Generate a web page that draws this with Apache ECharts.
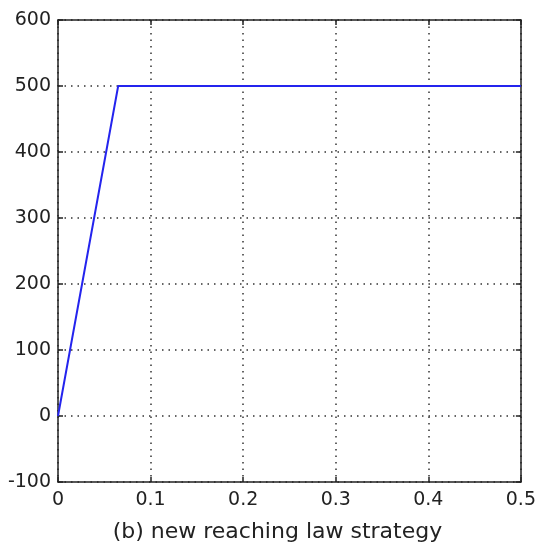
<!DOCTYPE html>
<html lang="en">
<head>
    <meta charset="UTF-8">
    <title>new reaching law strategy</title>
    <script type="text/javascript" src="https://cdn.jsdelivr.net/npm/echarts@6.0.0/dist/echarts.min.js"></script>
    <style>
        body { margin: 0; background: #fff; }
    </style>
</head>
<body>
<div id="main" style="width:539px;height:552px;"></div>
<script type="text/javascript">
    const chart = echarts.init(document.getElementById('main'));

    // data
    const timeVals = [0, 0.065, 0.5];
    const outputVals = [0, 500, 500];
    const xTitle = '(b) new reaching law strategy';

    const font = 'DejaVu Sans, sans-serif';
    const points = timeVals.map((t, i) => [t, outputVals[i]]);

    const gridLine = {show: true, lineStyle: {color: '#333', type: [1.5, 5], width: 1.5}};
    const boxLine = {show: true, onZero: false, lineStyle: {color: '#222', width: 1.5}};
    const tick = {show: true, inside: true, length: 5, lineStyle: {color: '#222', width: 1.5}};

    const option = {
        backgroundColor: '#fff',
        animation: false,
        grid: {left: 58, right: 18, top: 20, bottom: 70},
        xAxis: [{
            type: 'value',
            min: 0, max: 0.5, interval: 0.1,
            axisLine: boxLine,
            axisTick: tick,
            splitLine: gridLine,
            axisLabel: {color: '#222', fontSize: 19, fontFamily: font, margin: 9},
            name: xTitle,
            nameLocation: 'middle',
            nameGap: 39,
            // title sits a bit left of the plot centre in the original
            nameTextStyle: {color: '#222', fontSize: 22, fontFamily: font, padding: [0, 24, 0, 0]}
        }, {
            type: 'value', position: 'top',
            min: 0, max: 0.5, interval: 0.1,
            axisLine: boxLine, axisTick: tick,
            axisLabel: {show: false}, splitLine: {show: false}
        }],
        yAxis: [{
            type: 'value',
            min: -100, max: 600, interval: 100,
            axisLine: boxLine,
            axisTick: tick,
            splitLine: gridLine,
            axisLabel: {color: '#222', fontSize: 19, fontFamily: font, margin: 7}
        }, {
            type: 'value', position: 'right',
            min: -100, max: 600, interval: 100,
            axisLine: boxLine, axisTick: tick,
            axisLabel: {show: false}, splitLine: {show: false}
        }],
        series: [{
            type: 'line',
            data: points,
            showSymbol: false,
            lineStyle: {color: '#2424ee', width: 2}
        }]
    };

    chart.setOption(option);
</script>
</body>
</html>
